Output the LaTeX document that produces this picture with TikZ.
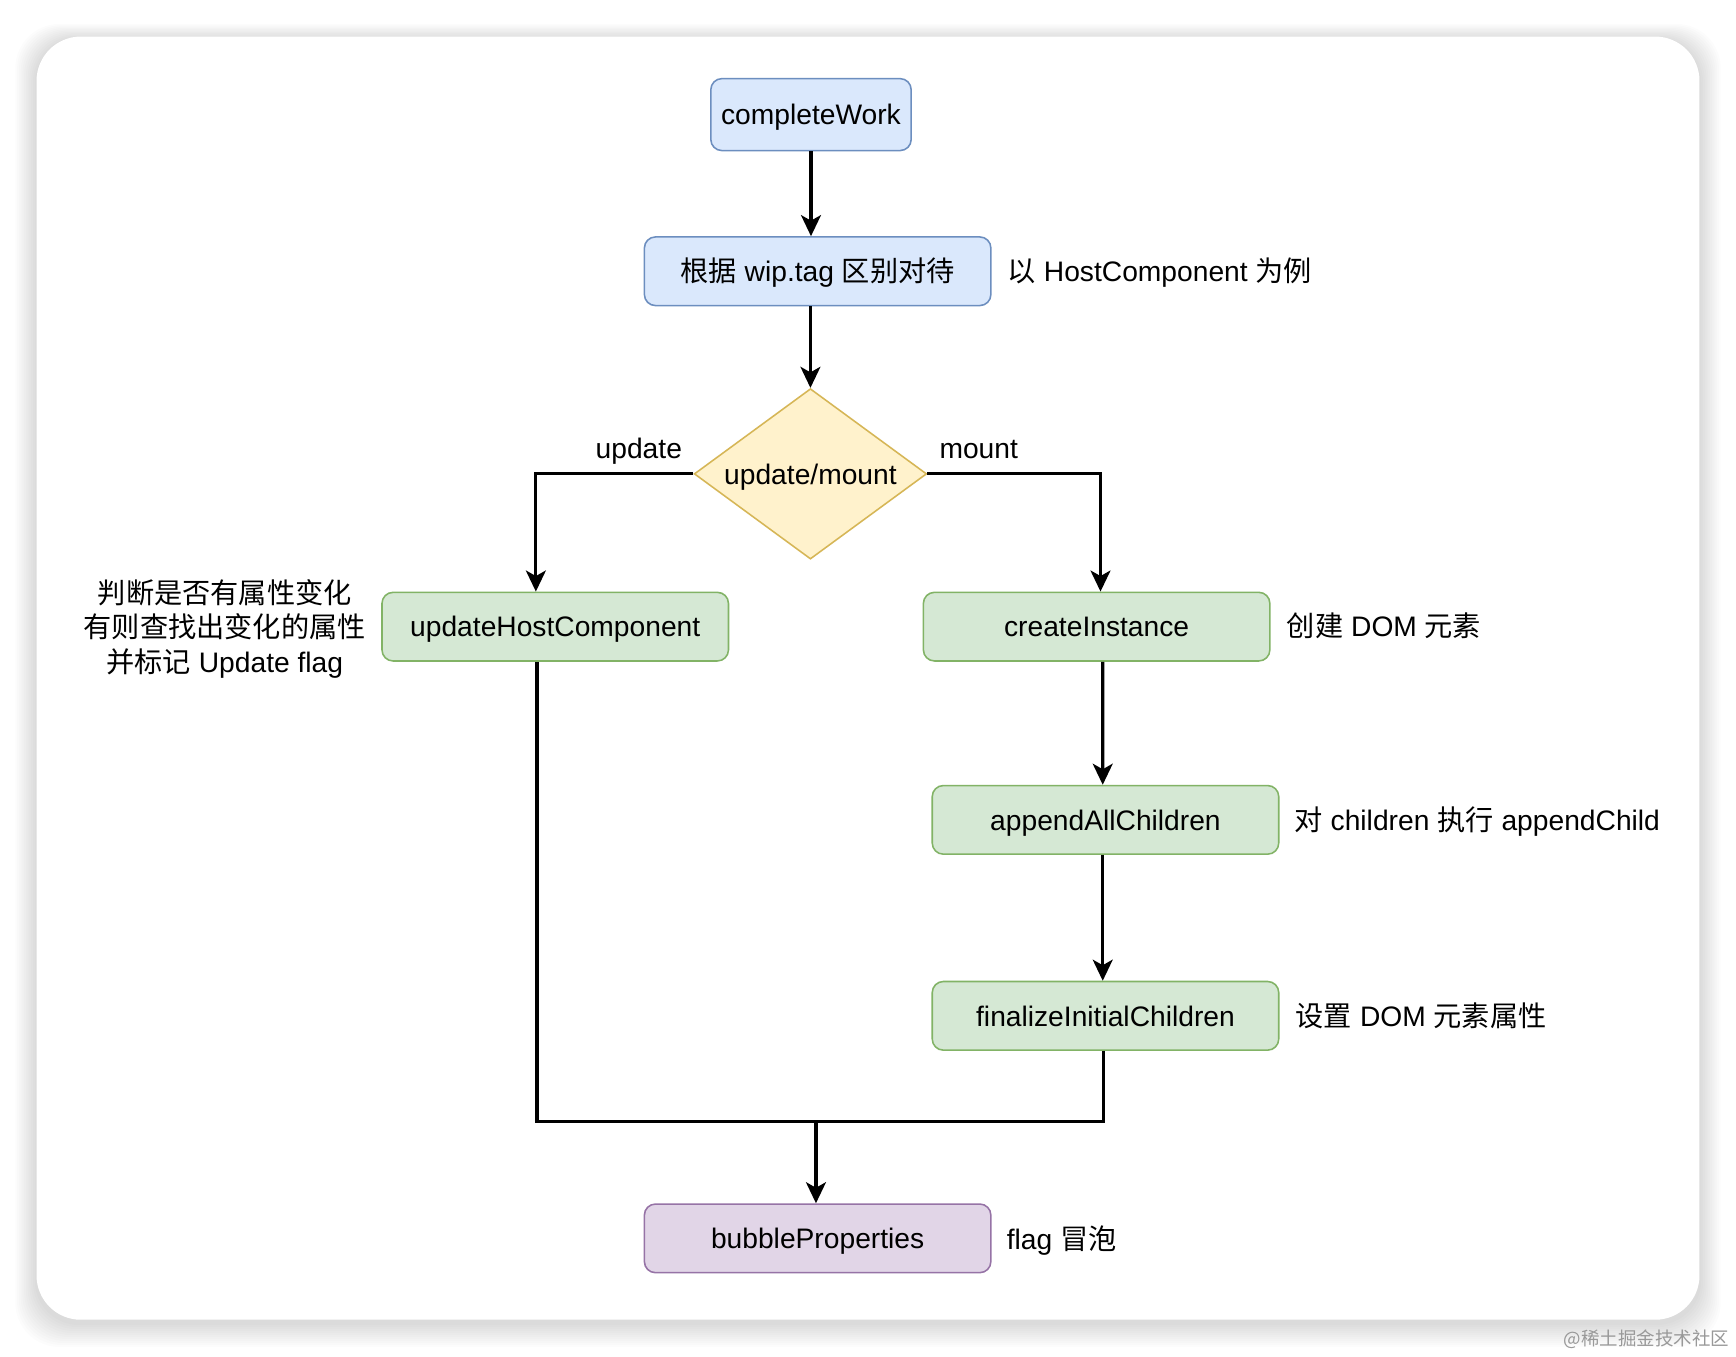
\documentclass[tikz,border=0pt]{standalone}
\usepackage{fontspec}
\setmainfont{Liberation Sans}
\newfontfamily\cjk{Noto Sans CJK SC}
\usetikzlibrary{shapes.geometric,arrows.meta}
\newcommand{\zh}[1]{{\cjk #1}}
\definecolor{bfill}{HTML}{DAE8FC}\definecolor{bdraw}{HTML}{6C8EBF}
\definecolor{gfill}{HTML}{D5E8D4}\definecolor{gdraw}{HTML}{82B366}
\definecolor{pfill}{HTML}{E1D5E7}\definecolor{pdraw}{HTML}{9673A6}
\definecolor{yfill}{HTML}{FFF2CC}\definecolor{ydraw}{HTML}{D6B656}
\begin{document}
\begin{tikzpicture}[x=0.02cm,y=-0.02cm,
  font=\fontsize{14.5}{18.5}\selectfont,
  boxbase/.style={draw, rounded corners=0.2cm, line width=0.8pt, minimum width=6.26cm, minimum height=1.24cm, inner sep=0pt, text height=10.6pt, text depth=0pt},
  bluebox/.style={boxbase, fill=bfill, draw=bdraw},
  greenbox/.style={boxbase, fill=gfill, draw=gdraw},
  purplebox/.style={boxbase, fill=pfill, draw=pdraw},
  decision/.style={shape=diamond, aspect=1.36, draw=ydraw, fill=yfill, line width=0.8pt, minimum width=4.2cm, minimum height=3.08cm, inner sep=0pt, text height=10.6pt, text depth=0pt},
  note/.style={inner sep=0pt, anchor=west, text height=10.6pt, text depth=0pt},
  lab/.style={inner sep=0pt, text height=10.6pt, text depth=0pt},
  conn/.style={line width=1.6pt},
  arr/.style={conn, -{Stealth[length=0.38cm,width=0.36cm,inset=0.1cm]}}
]
\useasboundingbox (0,0) rectangle (1568,1225);
\fill[white] (0,0) rectangle (1568,1225);
% card shadow
\foreach \i in {1,...,12}{
  \fill[black, opacity=0.012, rounded corners=0.8cm] (33-\i*1.6,33-\i*1.2+3) rectangle (1535+\i*1.6,1192+\i*1.8+3);
}
\fill[white, rounded corners=0.8cm] (33,33) rectangle (1535,1192);

% nodes
\node[bluebox, minimum width=3.62cm, minimum height=1.3cm] (cw) at (732.5,103.5) {completeWork};
\node[bluebox] (tag) at (738.5,245) {\zh{根据} wip.tag \zh{区别对待}};
\node[note] (tagn) at (910,245) {\zh{以} HostComponent \zh{为例}};
\node[decision] (dm) at (732,428) {update/mount};
\node[lab] (lu) at (577,405) {update};
\node[lab] (lm) at (884,405) {mount};
\node[greenbox] (uhc) at (501.5,566) {updateHostComponent};
\node[align=center, inner sep=0pt, font=\fontsize{14.5}{17.6}\selectfont] (uhcn) at (203,568) {\zh{判断是否有属性变化}\\\zh{有则查找出变化的属性}\\\zh{并标记} Update flag};
\node[greenbox] (ci) at (990.5,566) {createInstance};
\node[note] (cin) at (1162,566) {\zh{创建} DOM \zh{元素}};
\node[greenbox] (aac) at (998.5,740.5) {appendAllChildren};
\node[note] (aacn) at (1169,741) {\zh{对} children \zh{执行} appendChild};
\node[greenbox] (fic) at (998.5,917.5) {finalizeInitialChildren};
\node[note] (ficn) at (1170,918) {\zh{设置} DOM \zh{元素属性}};
\node[purplebox] (bp) at (738.5,1118.5) {bubbleProperties};
\node[note] (bpn) at (909,1119) {flag \zh{冒泡}};
\node[text=black!40, font=\cjk\fontsize{9.5}{11}\selectfont, anchor=east, inner sep=0pt] (wm) at (1562,1210) {@稀土掘金技术社区};

% junction coordinates
\coordinate (jl) at (485,1013);
\coordinate (jr) at (997,1013);
\coordinate (jm) at (737,1013);

% connectors
\draw[arr] (cw.south) -- (cw.south |- tag.north);
\draw[arr] (dm.north |- tag.south) -- (dm.north);
\draw[arr] (dm.west) -| ([xshift=-0.35cm]uhc.north);
\draw[arr] (dm.east) -| ([xshift=0.07cm]ci.north);
\draw[arr] ([xshift=0.11cm]ci.south) -- ([xshift=-0.05cm]aac.north);
\draw[arr] ([xshift=-0.05cm]aac.south) -- ([xshift=-0.05cm]fic.north);
\draw[conn] (fic.south -| jr) -- (jr);
\draw[conn] (uhc.south -| jl) -- (jl);
\draw[conn] ([xshift=-0.04cm]jl) -- ([xshift=0.02cm]jr);
\draw[arr] (jm) -- (jm |- bp.north);
\end{tikzpicture}
\end{document}
